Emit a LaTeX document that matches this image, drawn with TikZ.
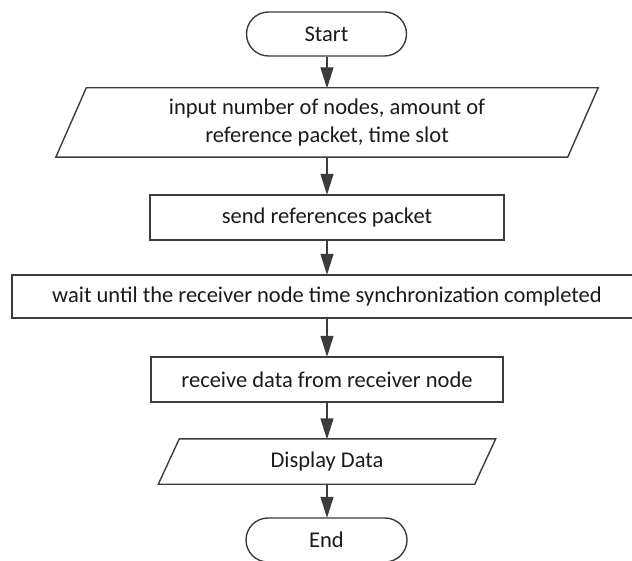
\documentclass[tikz,border=0pt]{standalone}
\usepackage{fontspec}
\setmainfont{Carlito}
\usetikzlibrary{arrows.meta}
\definecolor{linec}{HTML}{3C3C3C}
\definecolor{textc}{HTML}{1A1A1A}
\tikzset{
  base/.style={font=\fontsize{22.5}{28.5}\selectfont, text=textc, align=center, inner sep=0pt},
  boxnode/.style={base, draw=linec, line width=1.4pt, rectangle},
  termnode/.style={base, draw=linec, line width=1.4pt, rectangle, rounded corners=22pt},
  ionode/.style={base, rectangle},
  para/.style={draw=linec, line width=1.4pt},
  flow/.style={draw=linec, line width=1.4pt, -{Triangle[width=13pt,length=21pt]}, shorten >=-0.5pt}
}
\begin{document}
\begin{tikzpicture}[x=1pt,y=-1pt]
\useasboundingbox (0,0) rectangle (632,561);
\node[termnode, minimum width=160pt, minimum height=44pt] (start) at (326.5,34) {Start};
\node[ionode, minimum width=511.5pt, minimum height=69pt] (inp) at (327,122.5) {input number of nodes, amount of\\reference packet, time slot};
\draw[para] ([xshift=15.25pt]inp.north west) -- ([xshift=15.25pt]inp.north east) -- ([xshift=-15.25pt]inp.south east) -- ([xshift=-15.25pt]inp.south west) -- cycle;
\node[boxnode, minimum width=354pt, minimum height=45pt] (send) at (327,217.5) {send references packet};
\node[boxnode, minimum width=630pt, minimum height=43pt] (wait) at (327,296.5) {wait until the receiver node time synchronization completed};
\node[boxnode, minimum width=352pt, minimum height=45pt] (recv) at (327,379.5) {receive data from receiver node};
\node[ionode, minimum width=316pt, minimum height=45pt] (disp) at (327,461.5) {Display Data};
\draw[para] ([xshift=10.5pt]disp.north west) -- ([xshift=10.5pt]disp.north east) -- ([xshift=-10.5pt]disp.south east) -- ([xshift=-10.5pt]disp.south west) -- cycle;
\node[termnode, minimum width=161pt, minimum height=44pt] (end) at (326.5,540) {End};
\draw[flow] (start.south -| inp.north) -- (inp.north);
\draw[flow] (inp.south) -- (send.north);
\draw[flow] (send.south) -- (wait.north);
\draw[flow] (wait.south) -- (recv.north);
\draw[flow] (recv.south) -- (disp.north);
\draw[flow] (disp.south) -- (end.north -| disp.south);
\end{tikzpicture}
\end{document}
